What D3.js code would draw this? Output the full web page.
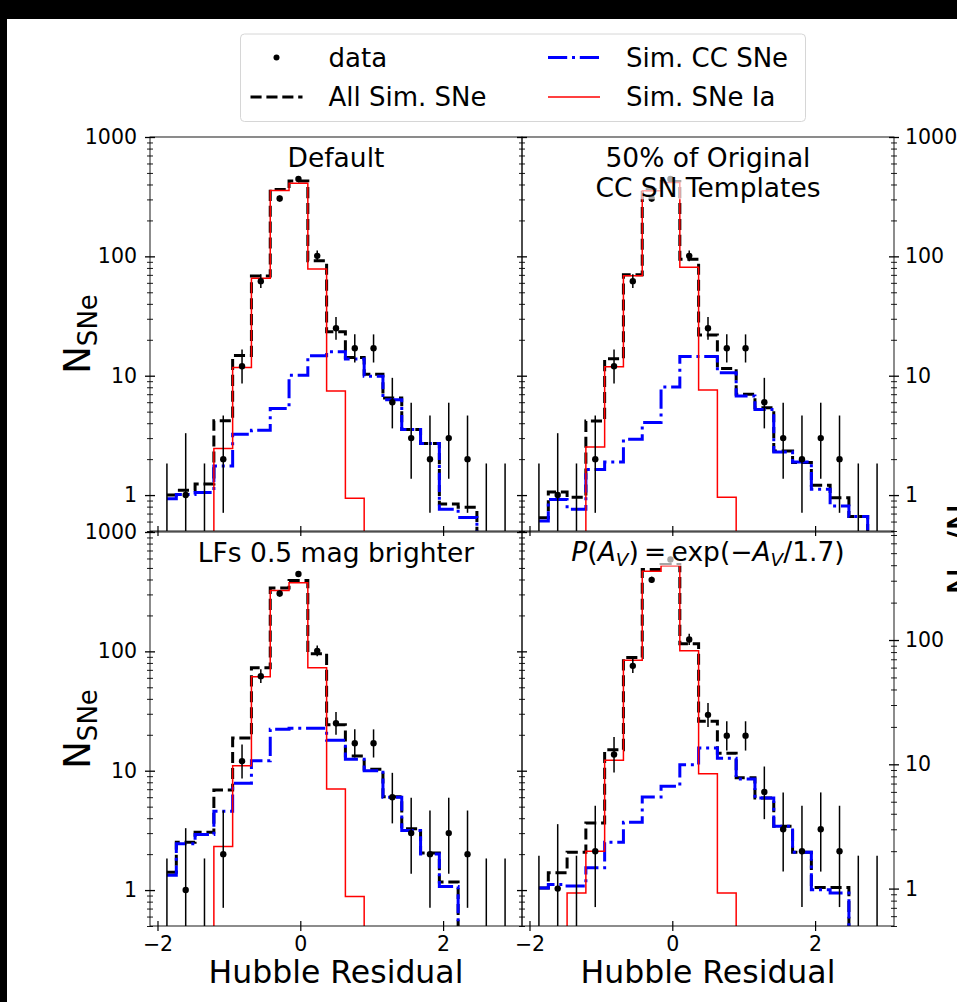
<!DOCTYPE html>
<html>
<head>
<meta charset="utf-8">
<script src="https://cdn.jsdelivr.net/npm/d3@7"></script>
<style>
  body { margin: 0; background: #fff; }
  svg text { font-family: "DejaVu Sans", sans-serif; fill: #000; }
</style>
</head>
<body>
<svg id="fig" width="957" height="1002"></svg>
<script>
// Hubble residual bin centres (19 bins between -2 and 3)
var binCenters = [-1.868, -1.605, -1.342, -1.079, -0.816, -0.553, -0.289, -0.026, 0.237, 0.500,
                  0.763, 1.026, 1.289, 1.553, 1.816, 2.079, 2.342, 2.605, 2.868];

// observed counts + 1-sigma poisson limits
var dataCounts = [0, 1, 0, 2, 12, 62, 305, 445, 101, 25, 17, 17, 6, 3, 2, 3, 2, 0, 0];
var errLo = [0, 0.17, 0, 0.71, 8.6, 54.2, 287.5, 423.9, 91.0, 20.0, 12.9, 12.9, 3.62, 1.37, 0.71, 1.37, 0.71, 0, 0];
var errHi = [1.84, 3.30, 1.84, 4.64, 16.6, 70.9, 323.5, 467.1, 112.1, 31.1, 22.2, 22.2, 9.60, 5.94, 4.64, 5.94, 4.64, 1.84, 1.84];

// Default
var defaultAll = [1.0, 1.1, 1.24, 4.2, 14.8, 68.5, 364, 428, 92, 23.4, 14.2, 10.3, 6.5, 3.55, 2.7, 0.84, 0.79, 0, 0];
var defaultCC  = [0.93, 1.01, 1.05, 1.75, 3.23, 3.5, 5.3, 10.1, 14.7, 15.9, 13.8, 9.9, 6.3, 3.55, 2.7, 0.76, 0.65, 0, 0];
var defaultIa  = [0, 0, 0, 2.46, 11.7, 65.4, 356, 410, 78.3, 7.46, 0.94, 0, 0, 0, 0, 0, 0, 0, 0];

// 50% of original CC templates
var halfAll = [0.645, 1.06, 0.96, 4.17, 13.9, 70, 362, 423, 94.8, 21.9, 11.5, 7.0, 5.4, 2.34, 1.87, 1.21, 0.95, 0.66, 0];
var halfCC  = [0.605, 0.92, 0.76, 1.64, 1.89, 2.93, 4.05, 8.05, 14.5, 14.5, 10.6, 6.77, 5.2, 2.29, 1.89, 1.12, 0.81, 0.66, 0];
var halfIa  = [0, 0, 0, 2.53, 11.9, 68.9, 354, 415, 80.9, 7.6, 0.96, 0, 0, 0, 0, 0, 0, 0, 0];

// LFs 0.5 mag brighter
var brightAll = [1.41, 2.52, 3.05, 6.89, 18.8, 73, 339, 392, 95.5, 24.3, 13.3, 10.3, 6.06, 3.26, 2.04, 1.17, 0, 0, 0];
var brightCC  = [1.33, 2.44, 2.92, 4.57, 7.84, 12.1, 22.3, 22.7, 22.7, 18.0, 12.5, 10.0, 5.98, 3.15, 2.01, 1.07, 0, 0, 0];
var brightIa  = [0, 0, 0, 2.32, 11.0, 61.4, 323, 375, 73, 7.03, 0.885, 0, 0, 0, 0, 0, 0, 0, 0];

// P(Av) = exp(-Av/1.7)
var avAll = [1.01, 1.34, 1.96, 3.37, 13.1, 72.5, 369, 405, 93.4, 22.2, 12.3, 7.8, 5.35, 3.17, 1.96, 1.02, 1.02, 0, 0];
var avCC  = [1.01, 1.08, 1.05, 1.47, 2.36, 3.42, 5.46, 6.65, 9.94, 13.5, 11.2, 7.62, 5.35, 3.17, 1.96, 0.98, 0.92, 0, 0];
var avIa  = [0, 0, 0.92, 2.0, 10.8, 68.6, 357, 396, 82, 8.4, 0.92, 0, 0, 0, 0, 0, 0, 0, 0];

var xTicks = [-2, 0, 2], xTickLabels = ["\u22122", "0", "2"];
var yTicks = [1, 10, 100, 1000], yTickLabels = ["1", "10", "100", "1000"];

var panels = [
  {title: ["Default"], all: defaultAll, cc: defaultCC, ia: defaultIa, col: 0, row: 0, yTop: 1000},
  {title: ["50% of Original", "CC SN Templates"], all: halfAll, cc: halfCC, ia: halfIa, col: 1, row: 0, yTop: 1000},
  {title: ["LFs 0.5 mag brighter"], all: brightAll, cc: brightCC, ia: brightIa, col: 0, row: 1, yTop: 1000},
  {title: null, all: avAll, cc: avCC, ia: avIa, col: 1, row: 1, yTop: 740}
];

var svg = d3.select('#fig');
var defs = svg.append('defs');
svg.append('rect').attr('width', 957).attr('height', 1002).attr('fill', '#fff');

var panelW = 372, panelH = 394;
var colX = [150, 522], rowY = [137, 532];
var xDomain = [-2.105, 3.105];
var bins = d3.range(binCenters.length);

function tidyTicks(g, len, side) {
  g.select('.domain').remove();
  g.selectAll('.tick line').attr('stroke', '#000');
  if (side === 'left') g.selectAll('.tick line').attr('x1', len);
  if (side === 'right') g.selectAll('.tick line').attr('x1', -len);
  if (side === 'bottom') g.selectAll('.tick line').attr('y1', -len);
  g.selectAll('.tick text').style('font-size', '20.5px').style('font-family', '"DejaVu Sans", sans-serif').attr('fill', '#000');
}

panels.forEach(function(p, i) {
  var x0 = colX[p.col], y0 = rowY[p.row];
  var x = d3.scaleLinear().domain(xDomain).range([x0, x0 + panelW]);
  var yShared = d3.scaleLog().domain([0.5, 1000]).range([y0 + panelH, y0]);
  var y = d3.scaleLog().domain([0.5, p.yTop]).range([y0 + panelH, y0]);
  function yv(v) { return v > 0 ? y(v) : y0 + panelH + 80; }

  defs.append('clipPath').attr('id', 'clip' + i).append('rect')
    .attr('x', x0).attr('y', y0).attr('width', panelW).attr('height', panelH);
  var g = svg.append('g');
  var plot = g.append('g').attr('clip-path', 'url(#clip' + i + ')');

  var line = d3.line()
    .x(function(d, j) { return x(binCenters[j]); })
    .y(function(d) { return yv(d); })
    .curve(d3.curveStep);

  plot.append('path').datum(p.all).attr('d', line).attr('fill', 'none')
    .attr('stroke', '#000').attr('stroke-width', 3).attr('stroke-dasharray', '11.1,4.8');
  plot.append('path').datum(p.cc).attr('d', line).attr('fill', 'none')
    .attr('stroke', '#0000ff').attr('stroke-width', 3).attr('stroke-dasharray', '19.2,4.8,3,4.8');
  plot.append('path').datum(p.ia).attr('d', line).attr('fill', 'none')
    .attr('stroke', '#ff0000').attr('stroke-width', 1.5);

  plot.selectAll('line.err').data(bins).enter().append('line').attr('class', 'err')
    .attr('x1', function(j) { return x(binCenters[j]); })
    .attr('x2', function(j) { return x(binCenters[j]); })
    .attr('y1', function(j) { return yv(errLo[j]); })
    .attr('y2', function(j) { return yv(errHi[j]); })
    .attr('stroke', '#000').attr('stroke-width', 1.5);
  plot.selectAll('circle.pt').data(bins.filter(function(j) { return dataCounts[j] > 0; }))
    .enter().append('circle').attr('class', 'pt')
    .attr('cx', function(j) { return x(binCenters[j]); })
    .attr('cy', function(j) { return y(dataCounts[j]); })
    .attr('r', 3.2).attr('fill', '#000');

  // title with half transparent white box
  var tg = g.append('g');
  var t = tg.append('text').attr('text-anchor', 'middle').style('font-size', '26.5px');
  if (p.title) {
    p.title.forEach(function(s, k) {
      t.append('tspan').attr('x', x0 + panelW / 2).attr('y', y0 + 29.7 + k * 30.6).text(s);
    });
  } else {
    t.attr('x', x0 + panelW / 2).attr('y', y0 + 29);
    t.append('tspan').style('font-style', 'italic').text('P');
    t.append('tspan').text('(');
    t.append('tspan').style('font-style', 'italic').text('A');
    t.append('tspan').style('font-style', 'italic').style('font-size', '18.5px').attr('dy', 5).text('V');
    t.append('tspan').attr('dy', -5).text(')\u2009=\u2009exp(\u2212');
    t.append('tspan').style('font-style', 'italic').text('A');
    t.append('tspan').style('font-style', 'italic').style('font-size', '18.5px').attr('dy', 5).text('V');
    t.append('tspan').attr('dy', -5).text('/1.7)');
  }
  var bb = t.node().getBBox();
  tg.insert('rect', 'text').attr('x', bb.x - 2).attr('y', bb.y + 2)
    .attr('width', bb.width + 4).attr('height', bb.height - 6)
    .attr('fill', '#fff').attr('opacity', 0.65);

  // spines
  g.append('rect').attr('x', x0).attr('y', y0).attr('width', panelW).attr('height', panelH)
    .attr('fill', 'none').attr('stroke', '#000').attr('stroke-width', 0.9);

  // x ticks
  var xAxis = d3.axisBottom(x).tickValues(xTicks).tickSizeInner(5).tickSizeOuter(0).tickPadding(5)
    .tickFormat(function(d, k) { return p.row === 1 ? xTickLabels[k] : ''; });
  g.append('g').attr('transform', 'translate(0,' + (y0 + panelH) + ')').call(xAxis)
    .call(function(a) { tidyTicks(a, 5, 'bottom'); a.selectAll('.tick line').attr('stroke-width', 1.2); });

  // left y ticks
  var minors = yShared.ticks().filter(function(v) { return yTicks.indexOf(v) < 0; });
  var leftMajor = d3.axisLeft(yShared).tickValues(yTicks).tickSizeInner(5).tickSizeOuter(0).tickPadding(8)
    .tickFormat(function(d, k) { return p.col === 0 ? yTickLabels[k] : ''; });
  g.append('g').attr('transform', 'translate(' + x0 + ',0)').call(leftMajor)
    .call(function(a) { tidyTicks(a, 5, 'left'); a.selectAll('.tick line').attr('stroke-width', 1.3); });
  var leftMinor = d3.axisLeft(yShared).tickValues(minors).tickSizeInner(3).tickSizeOuter(0).tickFormat('');
  g.append('g').attr('transform', 'translate(' + x0 + ',0)').call(leftMinor)
    .call(function(a) { tidyTicks(a, 3, 'left'); a.selectAll('.tick line').attr('stroke-width', 0.9); });

  // right y axis with its own limits
  if (p.col === 1) {
    var rMajor = yTicks.filter(function(v) { return v <= p.yTop; });
    var rMinor = y.ticks().filter(function(v) { return yTicks.indexOf(v) < 0; });
    var rightMajor = d3.axisRight(y).tickValues(rMajor).tickSizeInner(5).tickSizeOuter(0).tickPadding(6)
      .tickFormat(function(d) { return yTickLabels[yTicks.indexOf(d)]; });
    g.append('g').attr('transform', 'translate(' + (x0 + panelW) + ',0)').call(rightMajor)
      .call(function(a) { tidyTicks(a, 5, 'right'); a.selectAll('.tick line').attr('stroke-width', 1.3); });
    var rightMinor = d3.axisRight(y).tickValues(rMinor).tickSizeInner(3).tickSizeOuter(0).tickFormat('');
    g.append('g').attr('transform', 'translate(' + (x0 + panelW) + ',0)').call(rightMinor)
      .call(function(a) { tidyTicks(a, 3, 'right'); a.selectAll('.tick line').attr('stroke-width', 0.9); });
  }

  // axis labels
  if (p.col === 0) {
    var yl = svg.append('text').attr('transform', 'translate(90,' + (y0 + panelH / 2) + ') rotate(-90)')
      .attr('text-anchor', 'middle').style('font-size', '37px');
    yl.append('tspan').text('N');
    yl.append('tspan').style('font-size', '26px').attr('dy', 7).text('SNe');
  }
  if (p.row === 1) {
    svg.append('text').attr('x', x0 + panelW / 2).attr('y', 983).attr('text-anchor', 'middle')
      .style('font-size', '31.5px').text('Hubble Residual');
  }
});

// right-hand label, clipped by the page edge as in the original
var rl = svg.append('text').attr('transform', 'translate(974,531) rotate(-90)')
  .attr('text-anchor', 'middle').style('font-size', '37px');
rl.append('tspan').text('N');
rl.append('tspan').style('font-size', '26px').attr('dy', 7).text('Ia');
rl.append('tspan').attr('dy', -7).text('/N');
rl.append('tspan').style('font-size', '26px').attr('dy', 7).text('CC');

// legend
var lg = svg.append('g');
lg.append('rect').attr('x', 240.5).attr('y', 34).attr('width', 565).attr('height', 87.5).attr('rx', 4)
  .attr('fill', '#fff').attr('stroke', '#d6d6d6').attr('stroke-width', 1);
var legendItems = [
  {label: 'data', kind: 'dot', hx: 250.5, ty: 57.5},
  {label: 'All Sim. SNe', kind: 'all', hx: 250.5, ty: 97},
  {label: 'Sim. CC SNe', kind: 'cc', hx: 548, ty: 57.5},
  {label: 'Sim. SNe Ia', kind: 'ia', hx: 548, ty: 97}
];
legendItems.forEach(function(it) {
  if (it.kind === 'dot') {
    lg.append('circle').attr('cx', it.hx + 26).attr('cy', it.ty).attr('r', 3).attr('fill', '#000');
  } else {
    var ln = lg.append('line').attr('x1', it.hx).attr('x2', it.hx + 52).attr('y1', it.ty).attr('y2', it.ty).attr('fill', 'none');
    if (it.kind === 'all') ln.attr('stroke', '#000').attr('stroke-width', 3).attr('stroke-dasharray', '11.1,4.8');
    if (it.kind === 'cc') ln.attr('stroke', '#0000ff').attr('stroke-width', 3).attr('stroke-dasharray', '19.2,4.8,3,4.8');
    if (it.kind === 'ia') ln.attr('stroke', '#ff0000').attr('stroke-width', 1.5);
  }
  lg.append('text').attr('x', it.hx + 78).attr('y', it.ty).attr('dy', '0.35em')
    .style('font-size', '26px').text(it.label);
});

// dark frame edges of the original screenshot
svg.append('rect').attr('x', 0).attr('y', 0).attr('width', 957).attr('height', 19).attr('fill', '#000');
svg.append('rect').attr('x', 0).attr('y', 0).attr('width', 7).attr('height', 1002).attr('fill', '#000');
</script>
</body>
</html>
